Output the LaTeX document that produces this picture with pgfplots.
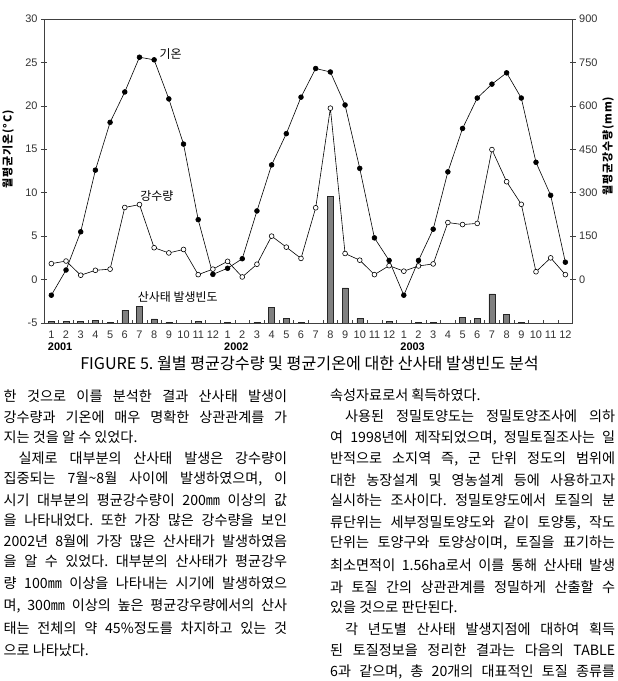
\documentclass[border=0pt]{standalone}
\usepackage{fontspec}
\setmainfont{Liberation Sans}
\newfontfamily\kr{Noto Sans CJK KR}
\newfontfamily\krsp[LetterSpace=8]{Noto Sans CJK KR}
\usepackage{pgfplots}
\pgfplotsset{compat=1.18}
\newcommand\bt{\kr\fontsize{14.2}{17}\selectfont}
\frenchspacing
\begin{document}
\begin{tikzpicture}
\useasboundingbox (0,0) rectangle (618bp,681bp);
\pgfplotsset{
  frame/.style={scale only axis, width=528.7bp, height=304bp, at={(44bp,358bp)}, anchor=south west, xmin=0.5, xmax=36.5, clip=false},
  tl/.style={/pgf/number format/assume math mode=true, tick label style={font=\fontsize{11}{13}\selectfont, text=black!80}},
}
% landslide frequency bars
\begin{axis}[frame, hide axis, ymin=0, ymax=35, ybar, bar width=6bp]
\addplot[fill=black!50, draw=black!85, line width=0.5bp] coordinates {
(1,0.15)(2,0.15)(3,0.2)(4,0.3)(5,0.1)(6,1.47)(7,1.9)(8,0.46)(9,0.1)(11,0.2)
(13,0.1)(15,0.1)(16,1.77)(17,0.54)(18,0.1)(20,14.6)(21,4.05)(22,0.54)(24,0.15)
(26,0.1)(27,0.08)(29,0.69)(30,0.5)(31,3.36)(32,1.0)(33,0.1)};
\end{axis}
% temperature (left axis)
\begin{axis}[frame, tl, ymin=-5, ymax=30, ytick={-5,0,...,30},
  xtick={1,...,36},
  xticklabels={1,2,3,4,5,6,7,8,9,10,11,12,1,2,3,4,5,6,7,8,9,10,11,12,1,2,3,4,5,6,7,8,9,10,11,12},
  minor xtick={1.5,2.5,...,35.5},
  xtick pos=bottom, ytick pos=left,
  major x tick style={draw=none},
  xtick align=inside, ytick align=center,
  major tick length=6bp, minor tick length=3bp,
  tick style={black!75, line width=0.5bp},
  axis line style={black!75, line width=0.6bp},
  xticklabel style={anchor=center, yshift=-12bp},
]
\addplot[black, line width=0.6bp, mark=*, mark size=2.4bp, mark options={fill=black}] coordinates {
(1,-1.8)(2,1.1)(3,5.5)(4,12.6)(5,18.1)(6,21.6)(7,25.6)(8,25.3)(9,20.8)(10,15.6)(11,6.9)(12,0.6)
(13,1.3)(14,2.4)(15,7.9)(16,13.2)(17,16.8)(18,21.0)(19,24.3)(20,23.9)(21,20.1)(22,12.8)(23,4.8)(24,2.2)
(25,-1.8)(26,2.2)(27,5.8)(28,12.4)(29,17.4)(30,20.9)(31,22.5)(32,23.8)(33,20.9)(34,13.5)(35,9.7)(36,2.0)};
\node[font=\kr\fontsize{12}{14}\selectfont] at (axis cs:9.13,25.95) {기온};
\node[font=\kr\fontsize{12}{14}\selectfont] at (axis cs:8.18,9.63) {강수량};
\node[font=\kr\fontsize{12}{14}\selectfont] at (axis cs:9.61,-2.06) {산사태 발생빈도};
\node[font=\bfseries\fontsize{11}{13}\selectfont] at (axis cs:1.6,-5) [yshift=-24bp] {2001};
\node[font=\bfseries\fontsize{11}{13}\selectfont] at (axis cs:13.6,-5) [yshift=-24bp] {2002};
\node[font=\bfseries\fontsize{11}{13}\selectfont] at (axis cs:25.6,-5) [yshift=-24bp] {2003};
\end{axis}
% precipitation (right axis)
\begin{axis}[frame, tl, ymin=-150, ymax=900, axis x line=none, axis y line*=right,
  ytick={0,150,...,900}, ytick align=center, major tick length=6bp,
  tick style={black!75, line width=0.5bp},
  axis line style={black!75, line width=0.6bp},
]
\addplot[black, line width=0.6bp, mark=*, mark size=2.4bp, mark options={fill=white, draw=black}] coordinates {
(1,55)(2,64)(3,15)(4,32)(5,36)(6,249)(7,259)(8,110)(9,92)(10,104)(11,17)(12,36)
(13,63)(14,9)(15,53)(16,150)(17,112)(18,73)(19,248)(20,592)(21,90)(22,67)(23,17)(24,48)
(25,29)(26,47)(27,54)(28,197)(29,190)(30,194)(31,449)(32,338)(33,260)(34,27)(35,75)(36,17)};
\end{axis}
\node[rotate=90, font=\krsp\bfseries\fontsize{11}{13}\selectfont] at (8bp,532bp) {월평균기온(°C)};
\node[rotate=90, font=\krsp\bfseries\fontsize{11}{13}\selectfont] at (608bp,535bp) {월평균강수량(mm)};
% caption
\node[font=\kr\fontsize{16.2}{19}\selectfont] at (309.5bp,318bp) {FIGURE 5. 월별 평균강수량 및 평균기온에 대한 산사태 발생빈도 분석};
% body text, left column
\begin{scope}[every node/.style={anchor=west, inner sep=0pt, font=\bt}]
\node at (3.5bp,285bp) {\makebox[283.5bp][s]{한 것으로 이를 분석한 결과 산사태 발생이}};
\node at (3.5bp,263.7bp) {\makebox[283.5bp][s]{강수량과 기온에 매우 명확한 상관관계를 가}};
\node at (3.5bp,243.7bp) {지는 것을 알 수 있었다.};
\node at (18.5bp,222.7bp) {\makebox[268.5bp][s]{실제로 대부분의 산사태 발생은 강수량이}};
\node at (3.5bp,201.7bp) {\makebox[283.5bp][s]{집중되는 7월\textasciitilde8월 사이에 발생하였으며, 이}};
\node at (3.5bp,181bp) {\makebox[283.5bp][s]{시기 대부분의 평균강수량이 200㎜ 이상의 값}};
\node at (3.5bp,160.3bp) {\makebox[283.5bp][s]{을 나타내었다. 또한 가장 많은 강수량을 보인}};
\node at (3.5bp,140bp) {\makebox[283.5bp][s]{2002년 8월에 가장 많은 산사태가 발생하였음}};
\node at (3.5bp,119.3bp) {\makebox[283.5bp][s]{을 알 수 있었다. 대부분의 산사태가 평균강우}};
\node at (3.5bp,97.7bp) {\makebox[283.5bp][s]{량 100㎜ 이상을 나타내는 시기에 발생하였으}};
\node at (3.5bp,75bp) {\makebox[283.5bp][s]{며, 300㎜ 이상의 높은 평균강우량에서의 산사}};
\node at (3.5bp,52.7bp) {\makebox[283.5bp][s]{태는 전체의 약 45\%정도를 차지하고 있는 것}};
\node at (3.5bp,30.3bp) {으로 나타났다.};
% right column
\node at (330bp,286bp) {속성자료로서 획득하였다.};
\node at (345bp,264.3bp) {\makebox[270bp][s]{사용된 정밀토양도는 정밀토양조사에 의하}};
\node at (330bp,243bp) {\makebox[285bp][s]{여 1998년에 제작되었으며, 정밀토질조사는 일}};
\node at (330bp,222bp) {\makebox[285bp][s]{반적으로 소지역 즉, 군 단위 정도의 범위에}};
\node at (330bp,201bp) {\makebox[285bp][s]{대한 농장설계 및 영농설계 등에 사용하고자}};
\node at (330bp,180.3bp) {\makebox[285bp][s]{실시하는 조사이다. 정밀토양도에서 토질의 분}};
\node at (330bp,158.3bp) {\makebox[285bp][s]{류단위는 세부정밀토양도와 같이 토양통, 작도}};
\node at (330bp,138.3bp) {\makebox[285bp][s]{단위는 토양구와 토양상이며, 토질을 표기하는}};
\node at (330bp,116bp) {\makebox[285bp][s]{최소면적이 1.56ha로서 이를 통해 산사태 발생}};
\node at (330bp,94.3bp) {\makebox[285bp][s]{과 토질 간의 상관관계를 정밀하게 산출할 수}};
\node at (330bp,73.3bp) {있을 것으로 판단된다.};
\node at (345bp,52bp) {\makebox[270bp][s]{각 년도별 산사태 발생지점에 대하여 획득}};
\node at (330bp,30.3bp) {\makebox[285bp][s]{된 토질정보을 정리한 결과는 다음의 TABLE}};
\node at (330bp,9.3bp) {\makebox[285bp][s]{6과 같으며, 총 20개의 대표적인 토질 종류를}};
\end{scope}
\end{tikzpicture}
\end{document}
